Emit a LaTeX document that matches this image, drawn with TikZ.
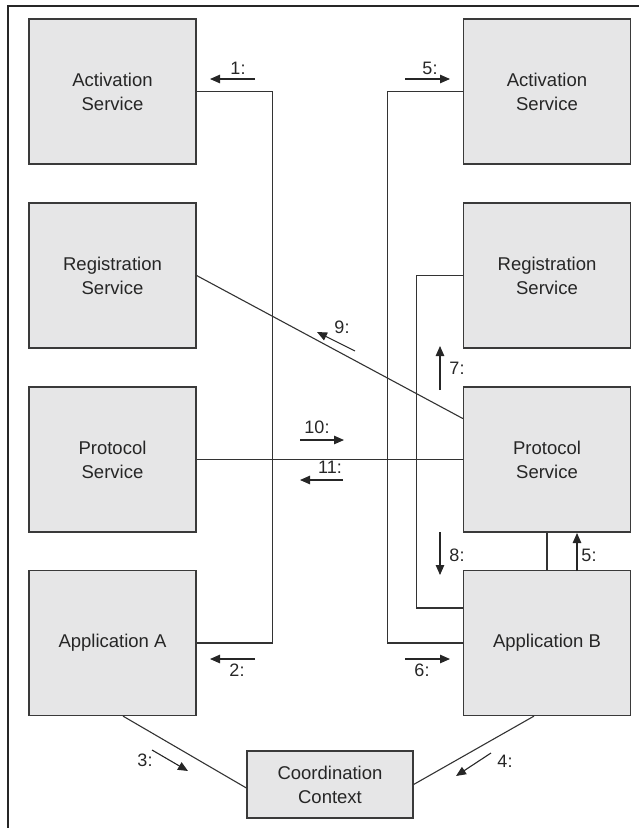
\documentclass[tikz,border=0pt]{standalone}
\usepackage{fontspec}
\setmainfont{Liberation Sans}
\usetikzlibrary{arrows.meta,calc}
\definecolor{boxfill}{HTML}{E6E6E7}
\definecolor{boxline}{HTML}{3A3A3A}
\definecolor{wire}{HTML}{333333}
\tikzset{
  svc/.style={draw=boxline, fill=boxfill, line width=1.2pt,
    minimum width=167pt, minimum height=145pt, inner sep=0pt,
    align=center, font=\fontsize{18.5}{24}\selectfont, text=black!85},
  ctxbox/.style={svc, minimum width=166pt, minimum height=67pt},
  wireline/.style={draw=wire, line width=1.1pt},
  msg/.style={draw=black!85, line width=1.1pt,
    -{Triangle[length=10pt,width=8.5pt]}},
  num/.style={inner sep=0pt, font=\fontsize{18}{22}\selectfont, text=black!85}
}
\begin{document}
\begin{tikzpicture}[x=1pt,y=-1pt]
\useasboundingbox (0,0) rectangle (639,828);
% frame
\draw[line width=1.2pt, draw=black!85] (8,828) -- (8,6) -- (639,6);

% services of A
\node[svc] (actA)  at (112.5,91.5)  {Activation\\Service};
\node[svc] (regA)  at (112.5,275.5) {Registration\\Service};
\node[svc] (protA) at (112.5,459.5) {Protocol\\Service};
\node[svc] (appA)  at (112.5,643)   {Application A};
% services of B
\node[svc] (actB)  at (547,91.5)  {Activation\\Service};
\node[svc] (regB)  at (547,275.5) {Registration\\Service};
\node[svc] (protB) at (547,459.5) {Protocol\\Service};
\node[svc] (appB)  at (547,643)   {Application B};
% shared context
\node[ctxbox] (cc) at (330,784.5) {Coordination\\Context};

% connectors
\draw[wireline] (actA.east) -- ++(76,0) |- (appA.east);
\draw[wireline] (actB.west) -- ++(-75,0) |- (appB.west);
\draw[wireline] (regB.west) -- ++(-46,0) |- ([yshift=35pt]appB.west);
\draw[wireline] (regA.east) -- ($(protB.north west)!0.22!(protB.south west)$);
\draw[wireline] (protA.east) -- (protB.west);
\draw[wireline] (protB.south) -- (appB.north);
\draw[wireline] ([xshift=10.5pt]appA.south) -- ([yshift=-3.5pt]cc.west);
\draw[wireline] ([xshift=-13pt]appB.south) -- (cc.east);

% numbered messages
\draw[msg] (255,79) -- (210,79);   \node[num] (m1)  at (238,68)  {1:};
\draw[msg] (405,79) -- (450,79);   \node[num] (m5a) at (430,68)  {5:};
\draw[msg] (355,351) -- (317,332); \node[num] (m9)  at (342,327) {9:};
\draw[msg] (440,390) -- (440,346); \node[num] (m7)  at (457,368) {7:};
\draw[msg] (300,440) -- (344,440); \node[num] (m10) at (317,427) {10:};
\draw[msg] (343,480) -- (300,480); \node[num] (m11) at (330,467) {11:};
\draw[msg] (440,532) -- (440,575); \node[num] (m8)  at (457,555) {8:};
\draw[msg] (577,571) -- (577,533); \node[num] (m5b) at (589,555) {5:};
\draw[msg] (255,659) -- (210,659); \node[num] (m2)  at (237,670) {2:};
\draw[msg] (405,659) -- (450,659); \node[num] (m6)  at (422,670) {6:};
\draw[msg] (152,750) -- (188,771); \node[num] (m3)  at (145,760) {3:};
\draw[msg] (491,753) -- (456,776); \node[num] (m4)  at (505,761) {4:};
\end{tikzpicture}
\end{document}
